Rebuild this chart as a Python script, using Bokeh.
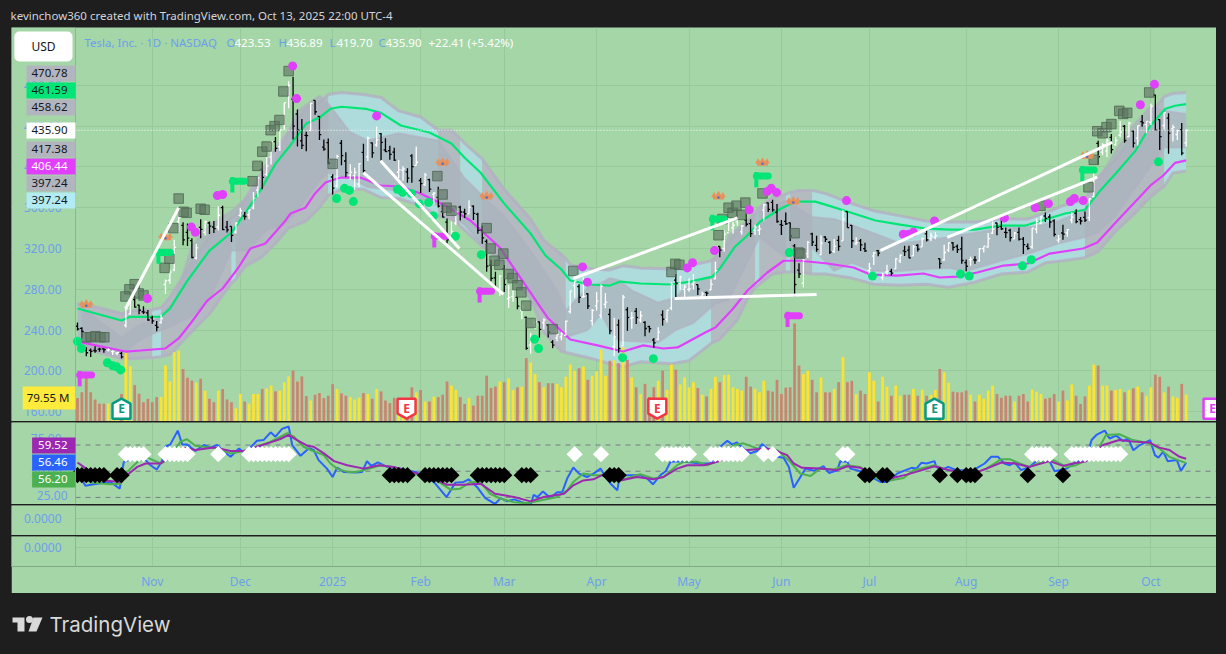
from bokeh.plotting import figure
from bokeh.layouts import column
from bokeh.models import (ColumnDataSource, Range1d, FixedTicker, Label)
from bokeh.core.properties import value
from bokeh.embed import file_html
from bokeh.resources import INLINE

# ---------- data (x = trading-bar number, first bar Oct 9 2024) ----------
opens = [243.8,241.8,220.1,220.1,220.0,221.4,221.6,220.7,218.9,217.3,217.1,244.7,256.0,270.0,264.5,258.0,257.0,
 252.0,244.6,247.3,284.7,288.9,299.1,346.3,342.7,335.9,327.7,310.6,340.7,335.8,345.0,341.1,341.1,360.1,341.0,341.8,336.1,
 352.4,351.8,353.0,359.9,377.4,397.6,392.7,409.7,424.8,420.0,441.1,475.9,466.5,451.9,425.5,431.0,435.9,465.2,449.5,419.4,423.8,
 390.1,381.5,423.2,405.8,392.0,391.4,383.2,414.3,409.9,423.5,421.5,432.6,416.8,416.0,414.5,394.8,396.9,395.2,410.8,401.5,
 386.7,382.6,387.5,373.0,370.2,356.2,345.8,329.9,345.0,360.6,355.6,354.0,361.5,353.4,338.1,327.0,303.7,291.2,279.5,
 300.3,270.9,272.9,272.1,259.3,252.5,225.3,247.2,248.1,247.3,245.1,228.2,232.3,233.3,235.0,258.1,283.6,282.7,272.5,275.6,249.3,
 263.8,254.6,265.3,255.4,223.8,245.0,224.7,260.0,251.8,258.4,249.9,247.6,243.5,230.3,231.0,254.9,250.5,261.7,289.0,285.5,279.9,
 280.0,284.9,284.6,273.1,276.9,279.6,290.2,322.0,320.0,335.5,340.3,346.2,336.3,347.9,344.4,337.9,337.9,357.6,364.8,365.3,355.5,
 343.5,346.6,345.1,322.5,298.8,286.0,314.9,334.4,323.1,314.0,331.3,326.1,317.3,328.0,327.5,356.2,342.7,324.6,327.5,319.9,
 298.5,312.6,318.0,291.4,297.0,297.5,300.0,307.9,317.7,318.4,312.8,323.2,321.7,334.4,329.7,330.9,310.0,308.7,318.5,325.5,322.0,319.6,
 306.2,309.1,308.9,307.9,319.8,321.4,335.0,345.0,341.5,335.8,337.7,329.6,335.8,329.2,322.1,321.7,338.9,344.9,351.9,350.9,347.2,
 328.2,335.2,335.4,348.0,354.6,348.4,350.6,350.2,370.9,423.1,414.5,415.8,428.9,421.8,431.1,439.9,429.8,435.2,428.3,444.4,441.5,
 443.8,470.5,446.4,440.8,447.8,437.6,431.8,436.5,423.53]
highs = [247.4,242.8,223.3,221.9,224.3,222.8,222.1,222.3,220.5,218.2,218.7,262.1,271.0,273.5,264.9,263.4,259.8,
 254.0,248.9,255.3,289.6,299.8,328.7,358.6,345.8,344.6,330.0,324.7,348.6,347.4,346.6,347.0,361.5,361.9,347.0,341.9,345.5,
 360.0,355.7,358.1,375.4,389.5,404.8,409.7,424.9,429.3,436.3,463.2,484.0,488.5,456.4,447.1,434.5,462.8,465.3,450.0,427.0,427.9,
 392.7,411.9,426.4,414.3,402.5,399.3,403.8,422.6,429.8,424.0,439.7,433.2,428.0,420.7,418.8,406.7,400.6,398.6,412.5,420.0,
 389.2,394.0,388.4,375.4,380.5,362.7,349.4,346.4,358.9,362.0,359.1,367.3,362.3,355.0,342.4,328.9,309.0,297.2,293.9,
 303.9,284.4,279.6,272.7,266.3,253.4,237.1,251.8,248.3,251.6,245.4,230.1,241.3,238.0,249.5,278.6,288.2,284.9,291.9,276.1,260.6,
 277.5,285.0,276.3,261.0,252.0,250.4,274.7,262.5,257.7,261.8,258.6,248.6,244.3,232.2,242.8,259.4,259.5,286.9,294.9,293.3,284.5,
 290.9,294.8,284.8,277.7,277.9,289.8,307.0,322.2,337.6,350.0,346.1,351.6,343.0,354.0,348.7,343.2,343.2,363.8,365.0,367.7,363.7,
 348.0,355.4,345.6,324.5,305.5,309.8,327.3,335.5,332.6,333.0,332.0,327.3,329.3,332.4,357.5,356.3,343.0,331.0,329.3,325.6,
 305.9,316.8,318.5,296.2,304.0,300.1,310.5,314.1,322.6,322.6,323.5,324.3,330.9,338.0,335.4,336.2,310.2,323.6,326.0,326.3,323.9,331.6,
 309.3,312.1,312.4,320.5,322.0,335.2,346.6,345.3,348.9,340.5,339.3,336.3,340.6,331.4,324.9,340.2,349.5,351.9,355.4,353.6,348.8,
 333.3,343.3,338.9,355.9,358.4,350.8,356.3,369.0,396.7,425.7,423.3,428.3,432.2,429.5,445.0,441.0,444.2,435.4,440.5,451.0,445.0,
 462.3,470.75,446.8,453.5,452.7,441.3,436.4,443.1,436.89]
lows = [239.5,232.3,214.4,213.7,217.9,218.9,217.9,219.0,215.7,215.3,212.1,242.6,255.3,262.2,255.5,255.8,249.2,
 246.2,238.9,246.4,275.6,285.5,297.7,336.0,323.3,322.5,310.4,309.2,330.0,332.8,334.3,335.3,337.7,338.2,335.7,326.3,334.7,
 351.2,348.2,348.6,358.5,370.8,378.0,390.9,402.4,415.0,415.7,436.2,457.5,427.0,420.0,417.6,415.4,435.1,451.1,426.5,415.8,402.5,
 373.0,379.5,401.7,390.0,387.4,377.3,380.1,394.5,405.7,409.1,419.8,406.3,414.6,407.0,405.7,389.0,386.5,384.5,384.4,401.5,
 374.4,381.4,375.5,363.2,360.3,350.5,325.1,329.1,342.9,347.5,350.0,353.7,348.0,334.4,324.7,297.3,288.0,280.9,273.6,
 277.3,261.8,267.7,260.4,250.7,220.7,217.0,241.1,232.6,240.7,232.8,222.3,229.2,230.0,234.6,256.3,271.3,266.5,271.8,260.6,244.4,
 259.3,251.3,261.5,236.0,214.3,217.8,223.9,239.3,241.4,245.9,247.5,233.9,237.7,222.8,229.9,244.4,247.4,259.6,272.4,279.5,270.8,
 277.7,279.8,274.4,271.4,271.0,279.1,290.0,311.5,316.8,337.0,334.7,342.3,333.4,341.6,331.2,333.2,333.2,347.3,355.9,356.0,345.3,
 333.3,343.0,327.3,273.2,291.1,281.9,310.7,322.5,316.9,313.3,326.4,314.7,315.5,317.8,327.5,340.4,320.4,323.6,317.5,316.6,
 293.2,303.8,312.4,288.8,294.4,293.5,300.0,305.7,312.7,310.5,312.6,317.1,321.4,326.9,327.2,329.2,300.4,308.0,316.6,318.1,315.7,305.0,
 297.8,303.0,305.0,306.9,316.2,320.9,334.2,332.9,338.2,330.4,327.0,329.6,327.9,314.6,318.7,319.7,335.0,343.7,345.9,340.3,331.7,
 325.6,328.5,331.5,344.7,344.8,343.6,346.1,347.0,370.2,402.4,411.4,409.7,413.1,421.0,429.1,423.7,429.0,419.1,421.0,439.5,433.1,
 440.8,435.6,416.6,436.7,413.0,425.0,426.5,411.5,419.70]
closes = [241.1,238.8,217.8,219.2,219.6,221.3,220.9,220.7,218.9,218.0,213.7,260.5,269.9,262.5,259.5,257.6,249.9,
 249.0,242.8,251.4,288.5,296.9,321.2,350.0,328.5,330.2,311.2,320.7,338.7,346.0,342.0,339.6,352.6,338.6,338.2,332.9,345.2,
 357.1,351.4,357.9,369.5,389.2,389.8,401.0,424.8,418.1,436.2,463.0,479.9,440.1,436.2,421.1,430.6,462.3,454.1,431.7,417.4,403.8,
 379.3,410.4,411.0,394.4,394.9,394.7,403.3,396.4,428.2,413.8,426.5,424.1,415.1,412.4,406.6,397.2,398.1,389.1,400.3,404.6,
 383.7,392.2,378.2,374.3,361.6,350.7,328.5,336.5,355.9,355.8,354.1,360.6,354.4,337.8,330.5,302.8,290.8,282.0,293.0,
 284.7,272.0,279.1,263.5,262.7,222.2,230.6,248.1,240.7,250.0,238.0,225.3,235.9,236.3,248.7,278.4,288.1,272.1,273.1,263.6,259.2,
 268.5,282.8,267.3,239.4,233.3,221.9,272.2,252.4,252.3,252.4,254.1,241.6,241.4,227.5,238.0,250.7,259.5,285.0,285.9,292.0,282.2,
 280.5,287.2,280.3,275.4,276.2,284.8,298.3,318.4,334.1,347.7,342.8,350.0,342.1,343.8,334.6,341.0,339.3,362.9,358.4,357.8,346.5,
 342.7,344.3,332.1,284.7,295.1,308.6,326.1,326.4,319.1,325.3,329.1,316.4,322.1,322.2,348.7,340.5,327.6,325.8,323.6,317.7,
 300.7,315.7,315.4,293.9,297.8,295.9,309.9,313.5,316.9,310.8,321.7,319.4,329.7,328.5,332.1,332.6,305.3,316.1,325.6,321.2,319.0,308.3,
 302.6,309.3,308.7,319.9,322.3,329.7,339.0,340.8,339.4,335.6,330.6,335.2,329.3,323.9,320.1,340.0,346.6,351.7,349.6,346.0,333.9,
 329.4,334.1,338.5,350.8,346.4,347.0,347.8,368.8,395.9,410.0,421.6,425.9,416.9,426.1,434.2,425.9,442.8,423.4,440.4,443.2,444.7,
 459.5,436.0,429.8,453.3,433.1,438.7,435.5,413.5,435.90]
volume_m = [69,86,130,86,65,52,52,54,54,62,81,202,163,108,82,57,67,
 57,72,72,165,118,204,209,155,129,121,114,126,91,67,57,91,96,65,57,39,
 81,59,52,81,81,96,98,106,89,91,115,133,150,118,133,75,62,79,84,69,76,
 110,96,83,76,72,65,71,84,81,67,96,89,62,54,70,62,48,68,101,86,
 93,59,59,73,72,79,118,106,93,72,52,69,47,76,76,135,99,103,118,
 116,127,93,101,103,187,174,140,116,101,113,113,111,101,132,168,150,157,162,123,135,
 148,212,135,179,181,172,219,182,130,101,81,111,72,101,120,150,93,168,153,109,130,
 101,116,99,79,74,96,132,116,137,138,101,96,91,132,103,96,86,120,91,88,123,
 81,100,101,289,165,140,150,123,86,130,86,86,96,116,190,116,120,81,91,81,
 145,120,59,132,103,76,106,76,79,79,96,76,94,76,79,93,155,145,114,88,86,86,
 91,79,59,79,67,91,106,81,70,76,76,59,76,81,59,94,88,81,67,70,81,
 59,91,62,109,76,52,74,106,168,165,106,106,91,93,96,86,93,98,103,86,76,
 101,138,132,86,103,74,70,111,79.55]
assert len(opens) == len(highs) == len(lows) == len(closes) == len(volume_m) == 253, (len(opens), len(highs), len(lows), len(closes), len(volume_m))

upper_idx = [0,10,12,19,21,25,30,35,38,42,45,48,52,55,57.5,60,65.5,69,73.5,80,85,88,91.6,97,103,106.4,110,112,116.6,121,123.4,128,134.8,139.3,144.3,146,149.5,151.8,155.2,159.8,163.2,167.7,170,175.7,181.4,187,192.7,198.4,204,209.8,215.5,220,224.5,229,232.5,236,240.5,243.9,247.3,249.5,252]
upper_line = [261.2,249.4,253,253.3,261,288.6,318,335.7,354,380,403,419,442.5,448.4,457,459,457,453,440.6,433.7,423,409,394.5,364,334.7,313,299.4,288.6,284.7,283.7,287.6,285.7,284.7,287.6,292.5,300.4,322,330.8,346.5,359,366,366,363,355.3,347.5,343.5,339.6,338.6,338.6,342.5,342.5,348.4,354.3,358,377,393.5,416,440.6,457,460,461.59]
lower_idx = [0,5.2,11,14.3,20,23,25.7,29.5,33,36.6,39.3,42.7,47.3,48.4,51.8,54,56.4,59.8,64.3,68.9,73.4,78,83.6,89.3,96,101.4,106.8,112,118.2,124,128.6,133.2,136.4,142.7,145,149,152.3,156.8,160.5,164.3,170.5,176.4,180.2,186.4,192.3,196,200,204.5,210.5,216,221,228.6,231.8,236.4,240,243.9,246.8,249.5,252]
lower_line = [228.8,224,219,220,222,231.8,246.5,269,280.8,301.4,320,325,347.5,354.3,360,374,384.7,389.6,389.6,381.8,380.8,374,362,347.5,321,286.7,252.4,230.8,225,219,225,222,223,237.6,242.5,261,278.8,296.5,308,308,305.3,301.4,294.5,293.5,295.5,291.6,292.5,296.5,303.3,305.3,315,320,325.9,347.5,364,381.8,391.6,404,406.44]

channel_idx = [0,1,5,10,12,17,19,21,25,30,35,36,38,42,45,48,52,55,57,60,65,69,73,78,82,85,87,88,92,97,103,106,110,111,112,117,121,124,128,135,139,144,146,150,152,154,155,158,161,162,164,167,170,176,181,187,193,198,204,210,216,220,224,229,232,236,240,244,247,249,252]
channel_top = [266,265,262,256,259,260,262,272,300,332,350,353,368,395,418,434,458,463,471,473,471,468,455,449,436,436,428,423,408,378,349,328,314,310,304,300,299,303,301,300,303,308,315,336,345,355,360,370,373,375,377,377,374,364,357,352,347,346,346,349,349,355,362,368,390,408,430,452,469,472,473]
channel_bot = [223,223,218,212,212,213,214,216,234,256,286,290,302,312,325,340,347,360,372,378,378,370,369,362,352,349,342,338,322,308,272,238,219,218,217,212,207,204,209,207,210,227,231,250,268,282,285,295,297,297,297,295,295,291,285,284,285,282,287,295,297,306,308,311,317,337,353,371,381,394,396]
cyan_from = [0,17,35,57,87,111,154,161,167,247]
cyan_to = [1,19,36,82,92,144,155,162,229,252]

band_idx = [0,5,10,14,18,22,26,30,35,39,43,47,50,55,57,62,66,73,82,88,92,97,103,109,111,116,119,121,123,126,132,136,140,145,148,155,161,167,172,176,181,187,193,198,202,210,217,223,229,232,236,240,244,247,252]
band_top = [266,249,233,245,251,269,323,343,357,372,392,426,455,470,462,434,426,433,426,389,372,352,318,279,259,282,286,291,289,279,267,272,289,292,333,357,367,351,349,343,335,325,328,331,334,340,341,347,357,387,416,441,460,455,452]
band_bot = [225,220,215,230,238,245,254,269,318,318,338,343,357,387,394,389,380,377,362,343,323,303,269,245,233,240,256,240,230,229,228,240,247,266,269,331,311,321,298,306,298,298,300,301,298,308,316,325,331,336,352,377,401,419,419]

month_idx = [17,37,58,78,97,118,139,160,180,202,223,244]
month_txt = ["Nov","Dec","2025","Feb","Mar","Apr","May","Jun","Jul","Aug","Sep","Oct"]
price_ticks = [160,200,240,280,320,360,400,440,480]

square_idx = [23,24.1,24.8,28,28.9,39.8,40.9,42,43,43.9,44.8,45.9,46.8,48,58,21.8,20.9,19.8,13,11.8,10.9,13.9,15,2,3,4.1,5.2,6.1,81.8,83,83.9,85,93,93.9,96.8,94.8,95.9,98,98.9,100,100.9,102,103,108,112.7,135,135.9,136.8,145.7,146.6,148,148.9,149.8,150.9,151.8,155.7,163,163.9,164.3,229.8,231,231.8,233,233.9,235,236.8,237.7,238.6,243.6,218.9]
square_px = [369,356,355,359,358,386,401,415,420,436,440,446,474,494,403,340,310,301,285,280,273,276,274,233,233,234,233,233,391,373,360,357,340,320,315,308,304,295,291,284,277,264,247,241,298,297,305,304,333,349,360,355,362,353,365,374,335,316,315,380,407,435,433,439,442,455,452,453,473,362]
pink_idx = [31.8,33,48.9,49.8,68,25.9,26.8,15.9,114.8,115.9,138.6,139.8,144.8,152.7,156.8,157.7,158.9,174.8,187.7,188.9,190,194.8,210.7,217.7,220.7,225.7,226.6,228.6,241.6,244.8]
pink_px = [372,373,499,467,450,341,336,271,302,287,301,306,318,358,376,379,375,367,334,334,336,347,350,360,364,366,369,367,461,481]
mint_idx = [58.9,60.7,61.8,62.7,72.7,0,0.9,6.8,8,8.9,9.8,73.9,75.9,77.7,79.8,80.9,85.9,91.8,103.9,104.8,123.9,130.9,161.8,180.7,200.7,202.7,214.8,216.8,245.7]
mint_px = [369,379,377,366,378,229,222,208,205,204,201,375,374,364,365,352,332,314,231,222,213,212,316,293,295,293,303,309,405]
flag_pink_idx = [0.5,81.1,91.4,161.4]
flag_pink_px = [185,321,267,243]
flag_mint_idx = [35.2,18.4,144.3,154.3,228.4]
flag_mint_px = [375,305,338,380,386]
crown_idx = [2,20,83,93,145.7,155.7,162.7,229.5]
crown_px = [266,332,405,372,372,405,367,412]
trend_x0 = [10.9,65,68.9,112.7,135.7,182.5,197.7]
trend_y0 = [261,394.5,406,290.6,271,318,331]
trend_x1 = [23,96.8,86.8,150,168,235.2,231.8]
trend_y1 = [360,275,320,350,275,424,390]
earn_idx = [10,74.8,131.8,194.8,258]
earn_kind = ["up","down","down","up","flat"]
earn_color = ["#089981","#f23645","#f23645","#089981","#e040fb"]
earn_level = 163
last_close = 435.90

rsi_fast_idx = [0,1.8,3.7,5.6,7.5,9.6,10.5,12.4,15.5,16.6,18,19.2,20,21.1,22.8,23.8,24.9,26.8,28.7,30.2,31.7,33.3,34.8,36.7,37.8,39.7,40.8,42.3,43.9,45,46.5,48,48.8,50.7,52.6,53.7,54.8,56.7,58,59,60.5,63.2,64.7,65.8,66.8,68.3,70.4,73.4,76.8,79,81,83.9,85.9,87.8,88.9,90.8,92.7,94.9,96.2,97.7,99.2,101,103,103.7,104.6,105.8,107.5,109,110.2,111.3,112.7,114,115.8,117.3,118.9,120,121.2,122.7,123.4,124.5,127.9,129.5,130.8,132.5,133.7,134.8,137,141.6,143.9,146.1,147.7,148.8,149.9,151.4,152.9,154.5,155.6,157.1,159,160.5,161.7,162.8,165.5,167.4,169.6,170.8,172.7,173.4,175,175.7,178,182.5,184,185.2,186.3,187.8,189.6,190.7,191.8,193,194.8,195.2,196.4,197.9,199.8,203.6,206.2,207.7,209.2,210.7,211.9,213,214.5,216.4,218.7,220.2,221,222.1,224.8,227,229.3,230.5,231.6,233.5,234.6,236.1,237.7,238.8,240,241.5,243.8,244.9,245.7,246.8,247.8,249.9,250.8,252]
rsi_fast = [49.5,39,40,41,41.8,36.7,57,59.7,58.5,54.6,51.3,57.7,68.7,70.5,81,70.5,70.5,65.4,70,68,70,64.9,61,67.4,64.4,69.5,73.3,73.8,79.7,76.4,82.3,84.1,70,61.8,67.5,66.2,58.5,52,45.6,52.8,49.5,49,49.5,57.7,54,56.7,53.3,52,49.5,45.6,41.8,30.3,41.3,41.8,43.8,38,29.5,25,29.5,27,28.5,26.4,24.4,32,30.3,34.6,29.5,34,34,44.4,52.8,48.2,45.6,48.2,52,45.6,40.5,35.4,49.5,47,47,44.4,40,47,50,57.2,57.7,55.9,55.9,68.7,73.3,70.5,72,67.4,63.6,65.4,70.8,66.2,61,60.3,53.3,37.4,52,50.3,53.8,48.7,50.8,57.7,57.2,52,50,41.8,41.8,44.4,48.2,50.3,52.6,52,56.4,55.9,57.7,53.3,51,53.3,50.8,50.8,55.9,61,61,55.9,54.6,56.7,50.8,53.3,59.7,62.3,57.2,50,52,57.2,59.7,73.8,77.7,81,75,77.2,73,75,66,70,73.8,62.3,60.3,64.9,57.7,58.5,50.3,56.46]
rsi_mid_idx = [0,3,7.5,9.8,11.3,13.6,15.5,18.9,21,23.4,24.9,26.8,28.7,31.7,34.8,37.8,40.8,43.9,47.7,49.2,51.4,53,56,57.5,59,61.3,63.5,65.8,68.9,71.5,73.4,81,84.8,87,89.3,91.6,93.8,96.2,99.2,102.2,105.2,109,111.3,112.7,115,117.3,119.2,123.4,127.9,130.9,133.2,136.3,137.8,140.8,143.1,146.1,149.2,151.4,154.5,159,162,164.3,166.6,168.8,171.8,174.9,177.9,181.7,184.7,187.8,190,194.8,196.8,199,203.6,206.6,210,211.9,214.2,216.4,219.5,221.8,224.8,227,229.3,232.3,233.8,236.8,239.9,243.6,245.9,248.2,252]
rsi_mid = [50,41.3,40,40.5,49.5,57,61,55.9,59.7,72.6,74.4,69.5,68.7,67.4,63.6,65.4,68.7,72.6,79,76.4,68.7,66.2,62.3,55.9,52,49.5,49.5,51.5,54.6,53.3,50.8,44.4,36,36.7,41.8,41.8,32.8,29,26.4,25.6,27.7,30.3,35.4,41.8,48.2,47,47,43,47.7,44.4,45.6,54.6,57.2,57.2,54.6,58.5,70,71.3,67.4,66.2,57.2,48.2,46.4,52,51.3,54.6,53.3,44.4,43,44.9,50.8,54.6,52,50,48.2,52,59.2,59.2,55.9,53.3,57.2,58.5,53.3,54.6,58.5,68.7,77.7,78.2,73.8,71.3,67.4,61,56.20]
rsi_slow_idx = [0,1.4,6,9.8,11.7,13.6,15.5,18.9,21,24.2,26.8,31,34.8,37.8,40.8,43.9,46.1,48,49.9,52.2,53.7,56,58.3,61.3,65.1,68.5,71.9,81,84,87.8,91.6,94.9,99.2,103,106,110.6,112.7,115,117.3,119.2,123.4,127.2,130.9,133.2,136.3,138.6,142.4,145.4,148.7,152.2,156.7,159,161.3,162.8,164.7,168.8,172.7,175,177.9,181.7,184.7,188.5,194.8,198.2,203.6,206.6,210,213,216.4,221,224,226.3,229.3,233.1,236.8,239.9,243.6,245.9,248.2,250.5,252]
rsi_slow = [56.7,53.3,43,41.8,48.2,53.3,55.9,55.9,61,68,66.2,68.2,65.4,65.4,68.7,72,74.6,77.7,73.8,69.5,68.7,63.6,57.7,54.6,52,54.6,53.3,44.4,39.7,39.7,40.5,32.8,30.3,27,30.3,32.8,39.2,43,43.8,47,43,45.6,43.8,45.6,52,54.6,54.6,57.2,62,66.2,67.4,65.4,62.3,55.9,52.6,52,50.8,53.8,52.6,47,44.4,47.4,53.8,50.8,48.2,52,56.7,55.9,53.3,57.7,54.1,55.9,57.7,70,73.8,72.6,72,68,66.2,61,59.52]
sell_idx = [0,1,2,3,4,5,6,9,10,71,72,73,74,75,79,80,81,82,83,84,85,91,92,93,94,95,96,97,101,102,103,121,122,123,179,180,183,184,196,200,202,203,204,216,224]
buy_idx = [11,12,13,14,15,20,21,22,23,24,25,32,39,40,41,42,43,44,45,46,47,48,113,119,133,134,135,136,137,138,139,144,145,146,147,148,149,150,151,156,158,174,175,217,218,219,220,221,226,227,228,229,230,231,232,233,234,235,236,237]
sell_level = 47
buy_level = 63
rsi_levels = [70,50,30]

# ---------- styling ----------
PAGE = "#1e1e1e"
PANE = "#a5d6a7"
GRID = "#97c99a"
AXIS = "#8db590"
BLUE = "#6d9eeb"
FONT = "Noto Sans"
W = 1205
X0, X1, AXIS_AT = -15, 258.9, -0.45

def tag(p, right, top, fill, text, color, left_pad=5, right_pad=8):
    """price tag at canvas pixels; padding order here is left, right, top, bottom"""
    p.add_layout(Label(x=right, y=top, x_units="canvas", y_units="canvas", text=text, text_color=color,
                       text_font=FONT, text_font_size="11.5px", text_align="right", text_baseline="top",
                       background_fill_color=fill, padding=(left_pad, right_pad, 3, 5), level="overlay"))

def pane(height, y0, y1, margin, bottom=0):
    p = figure(width=W, height=height + bottom, x_range=Range1d(X0, X1), y_range=Range1d(y0, y1),
               output_backend="svg", toolbar_location=None, min_border_left=0, min_border_right=0,
               min_border_top=0, min_border_bottom=bottom, background_fill_color=PANE, border_fill_color=PANE,
               outline_line_color=None, margin=margin, frame_align=False)
    p.xgrid.ticker = FixedTicker(ticks=month_idx)
    p.xgrid.grid_line_color = GRID
    p.ygrid.grid_line_color = GRID
    # plain strip left of the axis, over the grid: the axis and the tags live here
    p.quad(left=[X0], right=[AXIS_AT], bottom=[y0], top=[y1], fill_color=PANE, line_color=None)
    y = p.yaxis[0]
    y.fixed_location = AXIS_AT
    y.axis_line_color = AXIS
    y.major_tick_line_color = None
    y.minor_tick_line_color = None
    y.major_label_text_color = BLUE
    y.major_label_text_font = FONT
    y.major_label_text_font_size = "12px"
    y.major_label_standoff = 8
    return p

# ---------- main pane ----------
main = pane(394, 150.4, 536.7, (0, 10, 0, 11))
main.xaxis.visible = False
main.yaxis[0].ticker = FixedTicker(ticks=price_ticks)
main.yaxis[0].major_label_overrides = {t: f"{t:.2f}" for t in price_ticks}
main.ygrid.ticker = FixedTicker(ticks=price_ticks)
main.extra_y_ranges = {"vol": Range1d(0, 1162)}

# channel: cyan where it is set, grey elsewhere
pos = {v: i for i, v in enumerate(channel_idx)}
marks = sorted(set(cyan_from + cyan_to))
for a, b in zip(marks[:-1], marks[1:]):
    i, j = pos[a], pos[b] + 1
    cyan = any(f <= a and b <= t for f, t in zip(cyan_from, cyan_to))
    main.varea(x=channel_idx[i:j], y1=channel_top[i:j], y2=channel_bot[i:j],
               fill_color="#aedbdb" if cyan else "#b3bbc1", fill_alpha=1)
main.line(channel_idx, channel_top, line_color="#b3afc3", line_width=3, line_alpha=0.8)
main.line(channel_idx, channel_bot, line_color="#b3afc3", line_width=3, line_alpha=0.8)
main.varea(x=band_idx, y1=band_top, y2=band_bot, fill_color="#aab2bb", fill_alpha=0.75)
main.line(band_idx, band_top, line_color="#b3afc3", line_width=2, line_alpha=0.6)
main.line(band_idx, band_bot, line_color="#b3afc3", line_width=2, line_alpha=0.6)

# volume
vol_src = ColumnDataSource(dict(x=list(range(len(volume_m))), v=volume_m,
    c=["#ffe22e" if c >= o else "#c9856f" for o, c in zip(opens, closes)]))
main.vbar(x="x", top="v", bottom=0, width=0.62, fill_color="c", line_color=None, source=vol_src, y_range_name="vol")

main.line(upper_idx, upper_line, line_color="#00e676", line_width=2.2)
main.line(lower_idx, lower_line, line_color="#e040fb", line_width=2.2)

# OHLC bars
bar_src = ColumnDataSource(dict(x=list(range(len(opens))), xl=[i - 0.42 for i in range(len(opens))],
    xr=[i + 0.42 for i in range(len(opens))], o=opens, h=highs, l=lows, c=closes,
    col=["#ffffff" if c >= o else "#000000" for o, c in zip(opens, closes)]))
main.segment(x0="x", y0="l", x1="x", y1="h", line_color="col", line_width=1.3, source=bar_src)
main.segment(x0="xl", y0="o", x1="x", y1="o", line_color="col", line_width=1.3, source=bar_src)
main.segment(x0="x", y0="c", x1="xr", y1="c", line_color="col", line_width=1.3, source=bar_src)

main.scatter(square_idx, square_px, marker="square", size=9.5, fill_color="#5a7560", fill_alpha=0.62,
             line_color="#4d6553", line_alpha=0.8, line_width=1)
main.scatter(mint_idx, mint_px, marker="circle", size=9, fill_color="#00e676", line_color=None)
main.scatter(pink_idx, pink_px, marker="circle", size=9, fill_color="#e040fb", line_color=None)

# flags
for xs, ys, col in [(flag_pink_idx, flag_pink_px, "#e040fb"), (flag_mint_idx, flag_mint_px, "#00e676")]:
    main.segment(xs, ys, xs, [y + 15 for y in ys], line_color=col, line_width=4)
    main.segment(xs, [y + 11 for y in ys], [x + 2.7 for x in xs], [y + 11 for y in ys], line_color=col, line_width=7, line_cap="round")

# crowns
main.rect(crown_idx, [y - 2 for y in crown_px], width=11, height=4, width_units="screen", height_units="screen",
          fill_color="#e8915a", line_color=None)
main.scatter(crown_idx, crown_px, marker="triangle", size=8, fill_color="#e8915a", line_color=None)
main.scatter([x - 1 for x in crown_idx], crown_px, marker="triangle", size=6, fill_color="#e8915a", line_color=None)
main.scatter([x + 1 for x in crown_idx], crown_px, marker="triangle", size=6, fill_color="#e8915a", line_color=None)
main.scatter(crown_idx, [y - 2 for y in crown_px], marker="circle", size=2.5, fill_color="#4a6fd0", line_color=None)

main.segment(trend_x0, trend_y0, trend_x1, trend_y1, line_color="#ffffff", line_width=3)
main.segment([AXIS_AT], [last_close], [X1], [last_close], line_color="#ffffff", line_width=1, line_dash="1 2")

# earnings badges
bx, by = 9 / 4.4, 1 / 1.02
exs, eys = [], []
for x, k in zip(earn_idx, earn_kind):
    l, r = x - bx, x + bx
    if k == "up":
        exs.append([l, x, r, r, l]); eys.append([earn_level + 5 * by, earn_level + 10 * by, earn_level + 5 * by, earn_level - 10 * by, earn_level - 10 * by])
    elif k == "down":
        exs.append([l, r, r, x, l]); eys.append([earn_level + 10 * by, earn_level + 10 * by, earn_level - 5 * by, earn_level - 10 * by, earn_level - 5 * by])
    else:
        exs.append([l, r, r, l]); eys.append([earn_level + 10 * by, earn_level + 10 * by, earn_level - 10 * by, earn_level - 10 * by])
main.patches(exs, eys, fill_color="#ffffff", line_color=earn_color, line_width=2.5)
main.text(earn_idx, [earn_level] * len(earn_idx), text=["E"] * len(earn_idx), text_color=earn_color,
          text_font=value(FONT), text_font_size="12px", text_font_style="bold", text_align="center", text_baseline="middle")

# top legend (canvas pixels)
for tx, txt, col in [(73, "Tesla, Inc. · 1D · NASDAQ", BLUE), (215, "O", BLUE), (223, "423.53", "#ffffff"), (267, "H", BLUE), (275, "436.89", "#ffffff"),
                     (318, "L", BLUE), (325, "419.70", "#ffffff"), (367, "C", BLUE), (374, "435.90", "#ffffff"), (417, "+22.41 (+5.42%)", "#ffffff")]:
    main.add_layout(Label(x=tx, y=15, x_units="canvas", y_units="canvas", text=txt, text_color=col, text_font=FONT,
                          text_font_size="11.5px", text_baseline="middle", level="overlay"))

main.add_layout(Label(x=61, y=4, x_units="canvas", y_units="canvas", text="USD", text_color="#131722", text_font=FONT,
                      text_font_size="12px", text_align="right", text_baseline="top", background_fill_color="#ffffff",
                      padding=(17, 17, 6, 7), border_radius=5, level="overlay"))
for top, fill, txt, col in [(38, "#b2b5be", "470.78", "#131722"), (55, "#00e676", "461.59", "#131722"), (72, "#b2b5be", "458.62", "#131722"),
                            (95, "#ffffff", "435.90", "#131722"), (114, "#b2b5be", "417.38", "#131722"), (131, "#e040fb", "406.44", "#ffffff"),
                            (148, "#b2b5be", "397.24", "#131722"), (165, "#b2ebf2", "397.24", "#131722")]:
    tag(main, 64, top, fill, txt, col)
tag(main, 64, 359, "#ffeb3b", "79.55 M", "#131722", left_pad=4, right_pad=6)

# ---------- RSI pane ----------
rsi = pane(82, 24.6, 87.2, (1, 10, 0, 11))
rsi.xaxis.visible = False
rsi_ticks = [50, 75]
rsi.yaxis[0].ticker = FixedTicker(ticks=rsi_ticks)
rsi.yaxis[0].major_label_overrides = {t: f"{t:.2f}" for t in rsi_ticks}
rsi.ygrid.visible = False
rsi.segment([AXIS_AT] * 3, rsi_levels, [X1] * 3, rsi_levels, line_color="#787b86", line_width=1, line_dash="5 5")
rsi.line(rsi_fast_idx, rsi_fast, line_color="#2962ff", line_width=2)
rsi.line(rsi_mid_idx, rsi_mid, line_color="#4caf50", line_width=2)
rsi.line(rsi_slow_idx, rsi_slow, line_color="#9c27b0", line_width=2)
rsi.scatter(sell_idx, [sell_level] * len(sell_idx), marker="square", angle=0.785, size=11.5, fill_color="#000000", line_color=None)
rsi.scatter(buy_idx, [buy_level] * len(buy_idx), marker="square", angle=0.785, size=11.5, fill_color="#ffffff", line_color=None)
rsi.add_layout(Label(x=56, y=73, x_units="canvas", y_units="canvas", text="25.00", text_color=BLUE, text_font=FONT,
                     text_font_size="12px", text_align="right", text_baseline="middle"))
for top, fill, txt in [(15, "#9c27b0", "59.52"), (32, "#2962ff", "56.46"), (49, "#4caf50", "56.20")]:
    tag(rsi, 64, top, fill, txt, "#ffffff", left_pad=6)

# ---------- empty panes ----------
def zero_pane(height, y0, y1, margin, bottom=0):
    q = pane(height, y0, y1, margin, bottom)
    q.yaxis[0].ticker = FixedTicker(ticks=[0])
    q.yaxis[0].major_label_overrides = {0: "0.0000"}
    q.ygrid.ticker = FixedTicker(ticks=[0])
    return q

p3 = zero_pane(30, -17, 13, (1, 10, 0, 11))
p3.xaxis.visible = False
p4 = zero_pane(30, -19, 11, (1, 10, 0, 11), bottom=27)
x = p4.xaxis[0]
x.ticker = FixedTicker(ticks=month_idx)
x.major_label_overrides = dict(zip(month_idx, month_txt))
x.axis_line_color = "#7fa982"
x.major_tick_line_color = None
x.minor_tick_line_color = None
x.major_tick_out = 0
x.major_tick_in = 0
x.minor_tick_out = 0
x.minor_tick_in = 0
x.major_label_text_color = BLUE
x.major_label_text_font = FONT
x.major_label_text_font_size = "12px"
x.major_label_standoff = 6

# ---------- header and footer ----------
def strip(height):
    s = figure(width=1226, height=height, x_range=Range1d(0, 1226), y_range=Range1d(height, 0), output_backend="svg",
               toolbar_location=None, min_border=0, background_fill_color=PAGE, border_fill_color=PAGE, outline_line_color=None,
               frame_align=False)
    s.axis.visible = False
    s.grid.visible = False
    return s

head = strip(27)
head.rect([1], [1], width=1, height=1, fill_color=PAGE, line_color=None)
head.add_layout(Label(x=10, y=15, x_units="canvas", y_units="canvas", text="kevinchow360 created with TradingView.com, Oct 13, 2025 22:00 UTC-4",
                      text_color="#d1d4dc", text_font=FONT, text_font_size="11.5px", text_baseline="middle"))

foot = strip(61)
foot.patches([[12, 24, 24, 17, 17, 12], [33, 42, 36, 28]], [[24, 24, 38, 38, 29, 29], [24, 24, 38, 38]], fill_color="#d9d9d9", line_color=None)
foot.scatter([29], [26], marker="circle", size=7, fill_color="#d9d9d9", line_color=None)
foot.add_layout(Label(x=49, y=31, x_units="canvas", y_units="canvas", text="TradingView", text_color="#d9d9d9", text_font="Inter",
                      text_font_size="20.5px", text_baseline="middle"))

page = column(head, main, rsi, p3, p4, foot, spacing=0)
html = file_html(page, INLINE)
html = html.replace("</head>", "<style>html,body{background:#1e1e1e;overflow:hidden}</style></head>", 1)
open("out.html", "w").write(html)
